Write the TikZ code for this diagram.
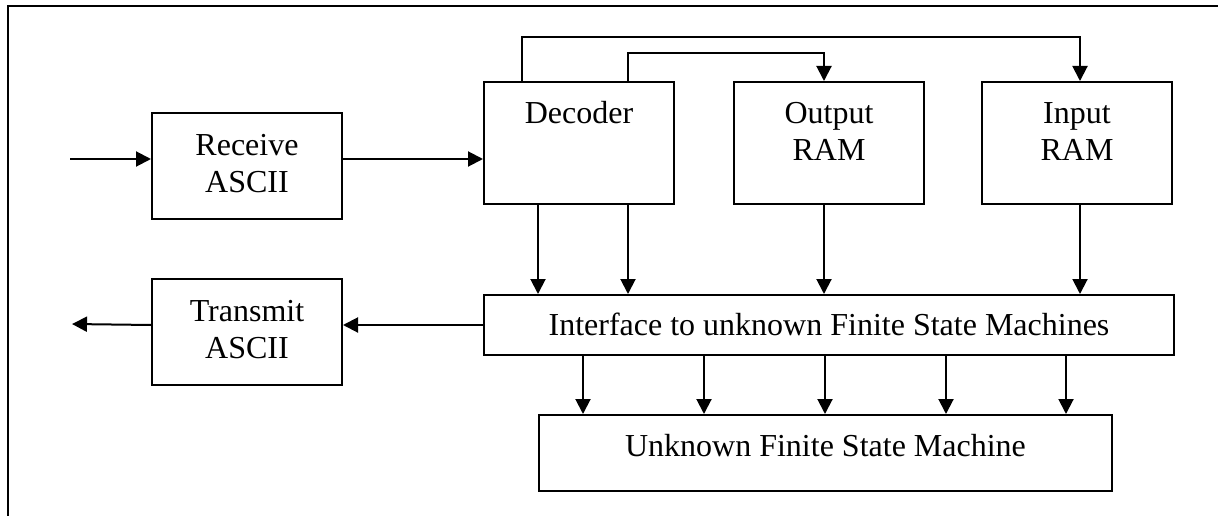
\documentclass[tikz,border=0pt]{standalone}
\usepackage{fontspec}
\setmainfont{Liberation Serif}
\usetikzlibrary{arrows.meta}
\newcommand\twoln[2]{\begin{tabular}[t]{@{}c@{}}#1\\#2\end{tabular}}
\begin{document}
\begin{tikzpicture}[x=1pt,y=-1pt,
  blk/.style={draw, line width=2pt, inner sep=0pt, anchor=north west,
    minimum width=190pt, font=\fontsize{32}{37}\selectfont},
  arr/.style={-{Triangle[length=15pt,width=15pt]}, line width=2pt},
  frameline/.style={line width=2pt}]
\useasboundingbox (0,0) rectangle (1218,516);
% frame
\draw[frameline] (1218,6) -- (8,6) -- (8,516);
% blocks
\node[blk, text height=42pt, text depth=64pt] (recv) at (151,112) {\twoln{Receive}{ASCII}};
\node[blk, text height=42pt, text depth=64pt] (trans) at (151,278) {\twoln{Transmit}{ASCII}};
\node[blk, text height=42pt, text depth=80pt] (dec) at (483,81) {Decoder};
\node[blk, text height=42pt, text depth=80pt] (oram) at (733,81) {\twoln{Output}{RAM}};
\node[blk, text height=42pt, text depth=80pt] (iram) at (981,81) {\twoln{Input}{RAM}};
\node[blk, minimum width=690pt, text height=40pt, text depth=20pt] (intf) at (483,294) {Interface to unknown Finite State Machines};
\node[blk, minimum width=573pt, text height=41pt, text depth=35pt] (fsm) at (538,414) {Unknown Finite State Machine};
% helper coordinates
\coordinate (rin) at (70,159);
\coordinate (tout) at (72,324);
\coordinate (b1) at (522,37);
\coordinate (b2) at (628,53);
\coordinate (xo) at (824,0);
\coordinate (xi) at (1080,0);
\coordinate (xd) at (538,0);
% connectors
\draw[arr] (rin) -- (rin -| recv.west);
\draw[arr] (rin -| recv.east) -- (rin -| dec.west);
\draw[arr] (b1 |- dec.north) -- (b1) -- (b1 -| xi) -- (xi |- iram.north);
\draw[arr] (b2 |- dec.north) -- (b2) -- (b2 -| xo) -- (xo |- oram.north);
\draw[arr] (xd |- dec.south) -- (xd |- intf.north);
\draw[arr] (b2 |- dec.south) -- (b2 |- intf.north);
\draw[arr] (xo |- oram.south) -- (xo |- intf.north);
\draw[arr] (xi |- iram.south) -- (xi |- intf.north);
\foreach \x [count=\i] in {583,704,825,946,1066} {
  \coordinate (f\i) at (\x,0);
  \draw[arr] (f\i |- intf.south) -- (f\i |- fsm.north);
}
\draw[arr] (intf.west) -- (intf.west -| trans.east);
\draw[arr] (intf.west -| trans.west) -- (tout);
\end{tikzpicture}
\end{document}
